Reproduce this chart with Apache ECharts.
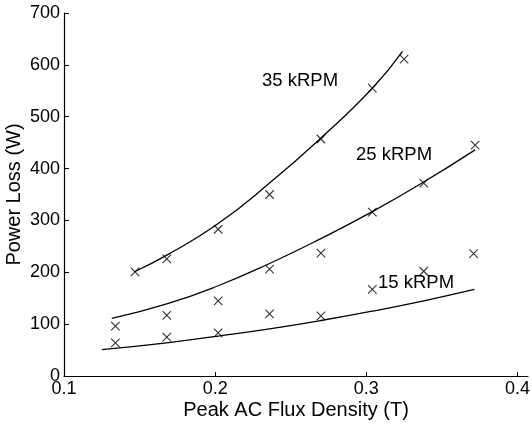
<!DOCTYPE html>
<html>
<head>
<meta charset="utf-8">
<script src="https://cdn.jsdelivr.net/npm/echarts@6/dist/echarts.min.js"></script>
<style>
html,body{margin:0;padding:0;background:#fff;}
#chart{width:532px;height:424px;}
</style>
</head>
<body>
<div id="chart"></div>
<script>
// ---- data ----
const xTicks = [0.1, 0.2, 0.3, 0.4];
const yTicks = [0, 100, 200, 300, 400, 500, 600, 700];

// measured points (x markers)
const x35 = [0.147, 0.168, 0.202, 0.236, 0.270, 0.304, 0.325];
const y35 = [201, 226, 283, 350, 457, 555, 611];
const x25 = [0.134, 0.168, 0.202, 0.236, 0.270, 0.304, 0.338, 0.372];
const y25 = [96, 117, 145, 206, 237, 316, 372, 445];
const x15 = [0.134, 0.168, 0.202, 0.236, 0.270, 0.304, 0.338, 0.371];
const y15 = [64, 75, 83, 120, 116, 167, 202, 236];

// fitted curves
const c35x = [0.1466, 0.168, 0.202, 0.236, 0.270, 0.304, 0.324];
const c35y = [201, 233, 294, 372, 459, 555, 626];
const c25x = [0.1316, 0.168, 0.202, 0.236, 0.270, 0.304, 0.338, 0.372];
const c25y = [111, 139, 174, 217, 265, 317, 374, 436];
const c15x = [0.125, 0.168, 0.202, 0.236, 0.270, 0.304, 0.338, 0.3715];
const c15y = [51, 64, 77, 91, 107, 125, 145, 167];

const curveLabels = ['35 kRPM', '25 kRPM', '15 kRPM'];

const zip = (xs, ys) => xs.map((x, i) => [x, ys[i]]);
const font = 'Liberation Sans, Arial, Helvetica, sans-serif';
const crossPath = 'path://M0,0L10,10M10,0L0,10';

const scatter = (xs, ys) => ({
  type: 'scatter',
  data: zip(xs, ys),
  symbol: crossPath,
  symbolSize: 8.5,
  itemStyle: { color: 'transparent', borderColor: '#000', borderWidth: 1.1 },
  silent: true, z: 3
});
const curve = (xs, ys) => ({
  type: 'line',
  data: zip(xs, ys),
  smooth: 0.5,
  showSymbol: false,
  lineStyle: { color: '#000', width: 1.3 },
  silent: true, z: 2
});

const chart = echarts.init(document.getElementById('chart'), null, { renderer: 'canvas' });
chart.setOption({
  animation: false,
  backgroundColor: '#fff',
  grid: { left: 64, right: 4, top: 13, bottom: 48, containLabel: false, outerBoundsMode: 'none' },
  xAxis: {
    type: 'value', min: 0.1, max: 0.407, interval: 0.1,
    name: 'Peak AC Flux Density (T)', nameLocation: 'middle', nameGap: 24, nameMoveOverlap: false,
    nameTextStyle: { fontFamily: font, fontSize: 20, color: '#000' },
    axisLine: { lineStyle: { color: '#000', width: 1.2 } },
    axisTick: { inside: true, length: 4, lineStyle: { color: '#000' }, customValues: xTicks },
    axisLabel: { fontFamily: font, fontSize: 18, color: '#000', margin: 4, customValues: xTicks,
      formatter: v => String(Math.round(v * 10) / 10) },
    splitLine: { show: false }
  },
  yAxis: {
    type: 'value', min: 0, max: 700, interval: 100,
    name: 'Power Loss (W)', nameLocation: 'middle', nameGap: 40, nameRotate: 90, nameMoveOverlap: false,
    nameTextStyle: { fontFamily: font, fontSize: 20, color: '#000' },
    axisLine: { show: true, lineStyle: { color: '#000', width: 1.2 } },
    axisTick: { show: true, inside: true, length: 5, lineStyle: { color: '#000' }, customValues: yTicks },
    axisLabel: { fontFamily: font, fontSize: 18, color: '#000', margin: 4, customValues: yTicks },
    splitLine: { show: false }
  },
  graphic: [
    { type: 'text', left: 262, top: 71, style: { text: curveLabels[0], font: '18.5px ' + font, fill: '#000' } },
    { type: 'text', left: 356, top: 145, style: { text: curveLabels[1], font: '18.5px ' + font, fill: '#000' } },
    { type: 'text', left: 378, top: 273, style: { text: curveLabels[2], font: '18.5px ' + font, fill: '#000' } }
  ],
  series: [
    curve(c35x, c35y), curve(c25x, c25y), curve(c15x, c15y),
    scatter(x35, y35), scatter(x25, y25), scatter(x15, y15)
  ]
});
</script>
</body>
</html>
